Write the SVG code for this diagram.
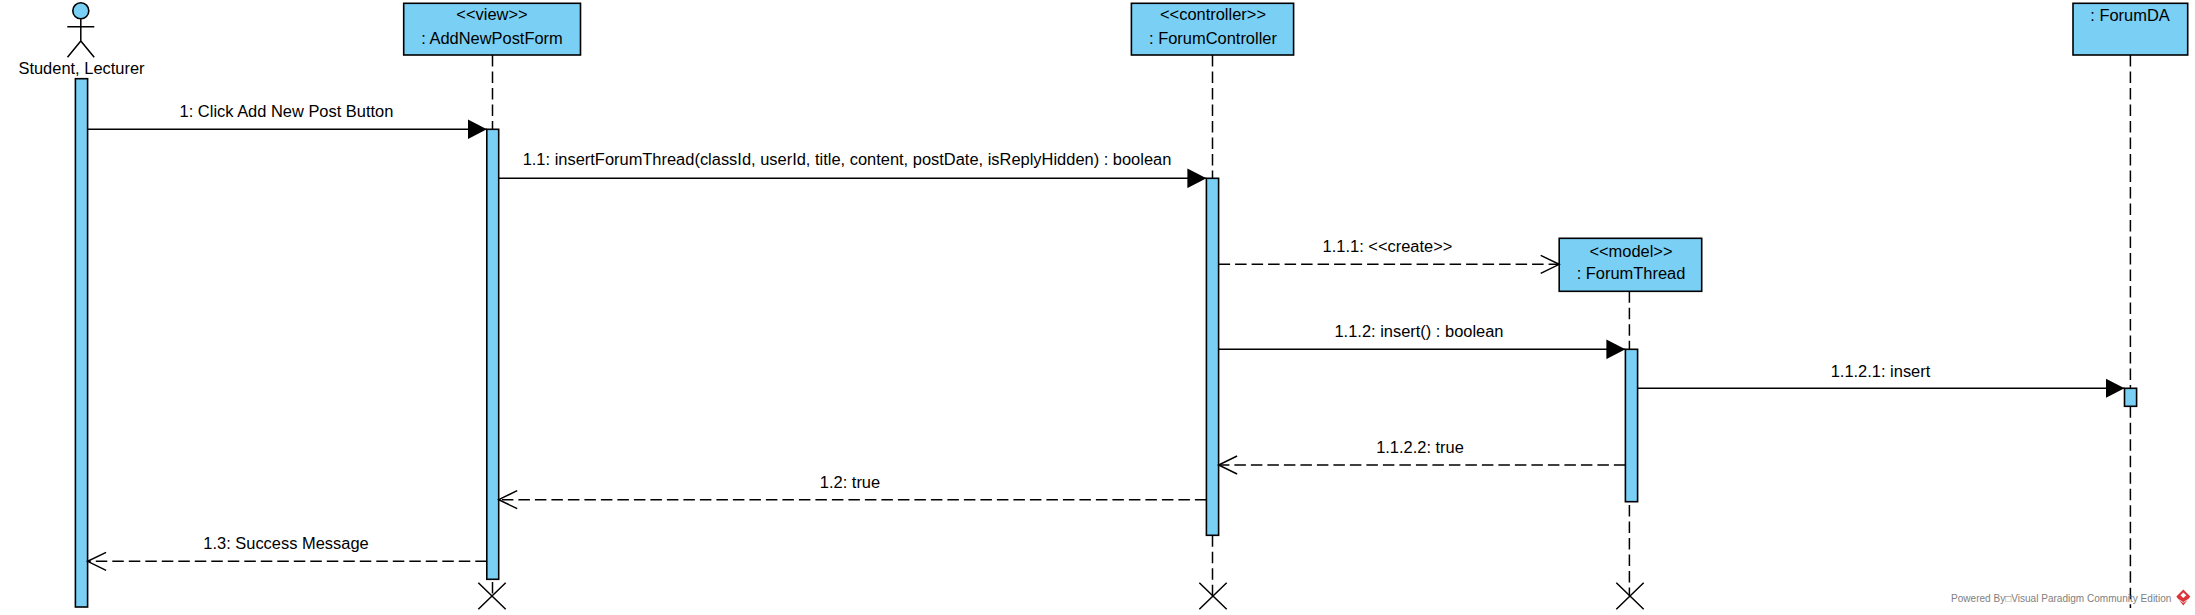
<svg xmlns="http://www.w3.org/2000/svg" width="2195" height="615" viewBox="0 0 2195 615">
<style>
text{font-family:"Liberation Sans",Arial,sans-serif;font-size:16.45px;fill:#000;text-anchor:middle}
.box{fill:#7acff5;stroke:#000;stroke-width:1.6}
.life{fill:none;stroke:#000;stroke-width:1.5;stroke-dasharray:11.5 5}
.line{fill:none;stroke:#000;stroke-width:1.5}
.dash{fill:none;stroke:#000;stroke-width:1.5;stroke-dasharray:11.5 5}
.x{fill:none;stroke:#000;stroke-width:1.5}
.wm{font-size:10.05px;fill:#808080;text-anchor:start}
</style>
<defs>
<marker id="solid" markerUnits="userSpaceOnUse" markerWidth="20" markerHeight="20" refX="19" refY="10" orient="auto"><path d="M0 .2L19 10L0 19.8Z" fill="#000"/></marker>
<marker id="openHead" markerUnits="userSpaceOnUse" markerWidth="22" markerHeight="22" refX="19" refY="10" orient="auto"><path d="M0.5 1L19 10L0.5 19" fill="none" stroke="#000" stroke-width="1.5"/></marker>
<path id="cross" class="x" d="M-13.7 -13.3L13.7 13.3M13.7 -13.3L-13.7 13.3"/>
</defs>
<rect width="2195" height="615" fill="#fff"/>
<g id="actor-student-lecturer">
<circle class="box" cx="80.8" cy="10.8" r="8"/>
<path class="line" d="M80.8 18.8V41M67.3 26.8H94.3M67.5 57.3L80.8 41L94.2 57.3"/>
<text x="81.5" y="74">Student, Lecturer</text>
<rect class="box" x="75.4" y="78.7" width="12.2" height="528.3"/>
</g>
<g id="node-addnewpostform">
<rect class="box" x="403.7" y="3.3" width="176.8" height="51.7"/>
<text x="492" y="20">&lt;&lt;view&gt;&gt;</text>
<text x="492" y="44">: AddNewPostForm</text>
<path class="life" d="M492.5 55V129.3"/>
<rect class="box" x="486.8" y="129.3" width="11.9" height="450"/>
<path class="life" d="M492.5 582V596"/>
<use href="#cross" x="492" y="596"/>
</g>
<g id="node-forumcontroller">
<rect class="box" x="1131.4" y="3.3" width="162.2" height="51.7"/>
<text x="1213" y="20">&lt;&lt;controller&gt;&gt;</text>
<text x="1213" y="44">: ForumController</text>
<path class="life" d="M1212.5 55V178.3"/>
<rect class="box" x="1206.4" y="178.3" width="12.2" height="357"/>
<path class="life" d="M1212.5 535.3V596"/>
<use href="#cross" x="1213" y="596"/>
</g>
<g id="node-forumthread">
<rect class="box" x="1559.2" y="238.3" width="142.5" height="53"/>
<text x="1631" y="256.7">&lt;&lt;model&gt;&gt;</text>
<text x="1631" y="278.7">: ForumThread</text>
<path class="life" d="M1629.4 291.3V349.3"/>
<rect class="box" x="1625.4" y="349.3" width="12.2" height="152.4"/>
<path class="life" d="M1629.4 505V596"/>
<use href="#cross" x="1630" y="596"/>
</g>
<g id="node-forumda">
<rect class="box" x="2073" y="3.3" width="114.7" height="51.7"/>
<text x="2130" y="21">: ForumDA</text>
<path class="life" d="M2130.4 55V388.3"/>
<rect class="box" x="2124.5" y="388.3" width="12.1" height="18"/>
<path class="life" d="M2130.4 406.3V608"/>
</g>
<g id="connectors">
<path class="line" marker-end="url(#solid)" d="M87.6 129.3H486.8"/>
<path class="line" marker-end="url(#solid)" d="M498.7 178.3H1206.4"/>
<path class="dash" marker-end="url(#openHead)" d="M1218.6 264.3H1559.2"/>
<path class="line" marker-end="url(#solid)" d="M1218.6 349.3H1625.4"/>
<path class="line" marker-end="url(#solid)" d="M1637.6 388.3H2124.5"/>
<path class="dash" marker-end="url(#openHead)" d="M1625.4 465H1218.6"/>
<path class="dash" marker-end="url(#openHead)" d="M1206.4 499.7H498.7"/>
<path class="dash" marker-end="url(#openHead)" d="M486.8 561.3H87.6"/>
</g>
<g id="labels">
<text x="286.5" y="117">1: Click Add New Post Button</text>
<text x="847" y="165">1.1: insertForumThread(classId, userId, title, content, postDate, isReplyHidden) : boolean</text>
<text x="1387.5" y="252">1.1.1: &lt;&lt;create&gt;&gt;</text>
<text x="1419" y="336.5">1.1.2: insert() : boolean</text>
<text x="1880.5" y="377">1.1.2.1: insert</text>
<text x="1420" y="453">1.1.2.2: true</text>
<text x="850" y="488">1.2: true</text>
<text x="286" y="549">1.3: Success Message</text>
</g>
<g id="watermark">
<text class="wm" x="1951" y="602">Powered By□Visual Paradigm Community Edition</text>
<path d="M2183.3 589.5L2190.3 596.5L2183.3 605.5L2176.3 596.5Z" fill="#d9363a"/>
<path d="M2183.3 592.5L2186.3 595.3L2183.3 598L2180.5 595.3Z" fill="#fff"/>
<path d="M2178.5 599.5L2183.3 602.5L2188 599.5" fill="none" stroke="#fff" stroke-width=".8"/>
</g>
</svg>
